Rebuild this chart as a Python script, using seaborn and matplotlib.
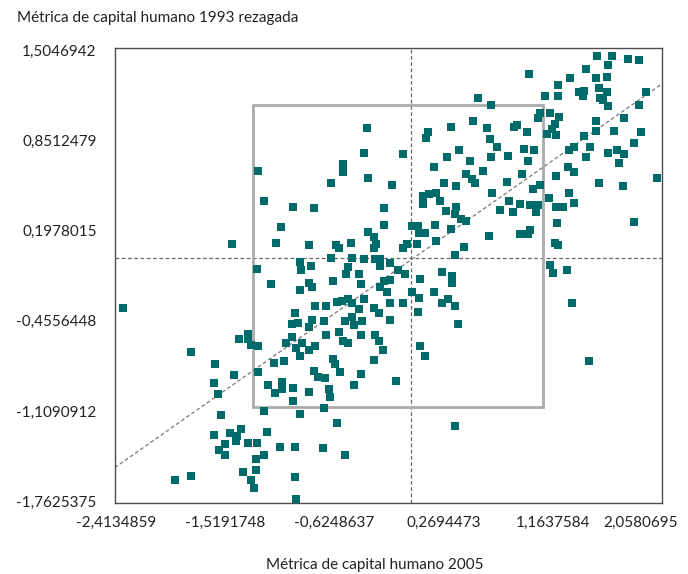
import numpy as np
import matplotlib
matplotlib.use("Agg")
import matplotlib.pyplot as plt
import matplotlib.transforms as mtransforms
from matplotlib.patches import Rectangle
import seaborn as sns

# Capital humano: métrica 2005 (x) frente a métrica 1993 rezagada (y), por grupos de la nube
grupo_izq_alto_x = [-1.25, -1.20, -0.96, -1.06, -1.46, -1.10, -1.26, -0.91, -0.90]
grupo_izq_alto_y = [0.63, 0.41, 0.37, 0.22, 0.10, 0.11, -0.08, -0.03, -0.09]

grupo_centro_alto_x = [0.55, 0.51, 0.33, 0.14, 0.13, -0.36, -0.38, -0.06, 0.40, 0.30,
                       0.49, 0.59, -0.55, -0.55, 0.19, 0.45, 0.50, 0.53, -0.65, -0.35,
                       -0.15, 0.27, 0.37, 0.10, 0.15, 0.21, 0.10, 0.24, 0.29, 0.37,
                       0.36, 0.41, 0.45, -0.79, -0.22, -0.22, -0.35, -0.30, -0.28, -0.30,
                       0.01, 0.06, 0.07, 0.12, 0.20, 0.33, 0.21, 0.05, -0.03, -0.06,
                       0.44, 0.36, -0.83, -0.61, -0.59, -0.49, -0.65, -0.48, -0.38, -0.29,
                       -0.25, -0.25, -0.17, -0.82, -0.51, -0.53, -0.42, -0.10, -0.05, 0.26, 0.34]
grupo_centro_alto_y = [1.16, 0.99, 0.95, 0.91, 0.87, 0.94, 0.76, 0.75, 0.78, 0.73,
                       0.70, 0.63, 0.68, 0.62, 0.66, 0.61, 0.57, 0.54, 0.54, 0.58,
                       0.53, 0.54, 0.52, 0.45, 0.46, 0.47, 0.39, 0.41, 0.34, 0.37,
                       0.32, 0.28, 0.27, 0.36, 0.36, 0.24, 0.19, 0.15, 0.10, 0.07,
                       0.23, 0.23, 0.18, 0.18, 0.24, 0.21, 0.12, 0.10, 0.10, 0.07,
                       0.08, 0.02, 0.09, 0.09, 0.07, 0.11, 0.00, 0.00, -0.01, -0.01,
                       -0.01, -0.06, -0.04, -0.06, -0.07, -0.12, -0.12, -0.09, -0.12, -0.10, -0.13]

grupo_der_alto_x = [1.53, 1.65, 1.62, 1.78, 1.87, 1.44, 0.97, 1.31, 1.52, 1.61,
                    1.21, 1.54, 1.38, 1.42, 1.41, 1.61, 1.55, 1.58, 1.62, 1.10,
                    1.21, 1.93, 1.87, 0.66, 1.06, 1.04, 1.14, 1.22, 1.18, 1.16,
                    1.12, 1.19, 0.85, 0.87, 0.63, 0.95, 0.65, 0.71, 0.66, 0.80,
                    0.93, 1.01, 0.96, 0.91, 0.79, 0.67, 1.00, 1.06, 1.19, 1.29,
                    1.34, 1.30, 1.34, 1.42, 1.47, 1.44, 1.52, 1.52, 1.67, 1.75,
                    1.89, 1.83, 1.62, 1.69, 1.75, 1.71, 1.54, 1.74, 2.02, 0.81,
                    0.73, 0.84, 0.90, 0.98, 1.04, 1.03, 1.13, 1.19, 1.25, 1.30,
                    1.34, 1.20, 0.98, 0.90, 0.96, 0.64, 1.83, 1.18, 1.21, 1.14,
                    1.17, 1.28]
grupo_der_alto_y = [1.46, 1.46, 1.40, 1.44, 1.43, 1.37, 1.33, 1.30, 1.30, 1.31,
                    1.25, 1.23, 1.20, 1.21, 1.17, 1.20, 1.16, 1.14, 1.10, 1.17,
                    1.17, 1.20, 1.11, 1.11, 1.05, 1.01, 1.05, 1.02, 0.97, 0.93,
                    0.90, 0.89, 0.95, 0.96, 0.94, 0.91, 0.86, 0.80, 0.73, 0.74,
                    0.79, 0.78, 0.70, 0.61, 0.55, 0.47, 0.50, 0.53, 0.59, 0.66,
                    0.62, 0.78, 0.80, 0.88, 0.80, 0.73, 0.99, 0.92, 0.92, 1.01,
                    0.91, 0.83, 0.76, 0.78, 0.75, 0.69, 0.54, 0.52, 0.58, 0.41,
                    0.35, 0.33, 0.39, 0.38, 0.38, 0.33, 0.43, 0.37, 0.37, 0.47,
                    0.40, 0.25, 0.20, 0.17, 0.17, 0.16, 0.26, 0.11, 0.09, -0.05,
                    -0.11, -0.09]

grupo_izq_bajo_x = [-2.36, -1.14, -0.91, -0.95, -0.97, -0.92, -1.33, -1.41, -1.33, -1.31,
                    -1.25, -1.02, -0.97, -0.94, -0.91, -1.80, -1.60, -1.45, -1.61, -1.58,
                    -1.25, -1.12, -1.04, -1.17, -1.05, -1.05, -1.11, -0.96, -0.96, -1.20,
                    -0.91, -1.55, -1.61, -1.48, -1.39, -1.42, -1.43, -1.33, -1.26, -1.18,
                    -1.52, -1.57, -1.52, -1.27, -1.20, -1.07, -0.95, -1.93, -1.80, -1.37,
                    -1.27, -1.31, -1.28, -0.95, -0.94]
grupo_izq_bajo_y = [-0.36, -0.19, -0.23, -0.40, -0.48, -0.47, -0.55, -0.59, -0.59, -0.63,
                    -0.64, -0.62, -0.57, -0.65, -0.71, -0.68, -0.77, -0.85, -0.91, -0.99,
                    -0.83, -0.76, -0.75, -0.92, -0.90, -0.95, -0.98, -0.94, -1.04, -1.11,
                    -1.13, -1.14, -1.28, -1.27, -1.24, -1.29, -1.33, -1.34, -1.34, -1.26,
                    -1.35, -1.39, -1.43, -1.46, -1.43, -1.37, -1.37, -1.61, -1.58, -1.55,
                    -1.54, -1.61, -1.67, -1.59, -1.75]

grupo_centro_bajo_x = [-0.83, -0.81, -0.64, -0.41, -0.25, -0.22, -0.17, -0.19, 0.08, 0.01,
                       0.07, 0.19, 0.34, 0.31, 0.26, 0.36, 0.06, 0.39, -0.78, -0.69,
                       -0.60, -0.56, -0.51, -0.48, -0.42, -0.38, -0.30, -0.26, -0.17, -0.06,
                       -0.17, -0.81, -0.83, -0.71, -0.54, -0.48, -0.46, -0.40, -0.69, -0.59,
                       -0.55, -0.51, -0.41, -0.29, -0.26, -0.23, -0.30, -0.89, -0.78, -0.83,
                       -0.64, -0.62, -0.79, -0.76, -0.70, -0.58, -0.41, -0.46, -0.67, -0.66,
                       -0.83, -0.12, 0.08, 0.12, -0.71, -0.60, 0.36, -0.72, -0.54]
grupo_centro_bajo_y = [-0.18, -0.21, -0.17, -0.19, -0.21, -0.17, -0.16, -0.25, -0.15, -0.25,
                       -0.29, -0.25, -0.18, -0.30, -0.33, -0.35, -0.39, -0.48, -0.35, -0.35,
                       -0.32, -0.31, -0.30, -0.33, -0.37, -0.30, -0.36, -0.40, -0.33, -0.33,
                       -0.45, -0.45, -0.50, -0.46, -0.46, -0.43, -0.49, -0.46, -0.56, -0.54,
                       -0.60, -0.62, -0.56, -0.56, -0.60, -0.67, -0.74, -0.62, -0.64, -0.67,
                       -0.73, -0.77, -0.82, -0.86, -0.87, -0.83, -0.84, -0.92, -0.95, -1.01,
                       -0.97, -0.89, -0.64, -0.71, -1.09, -1.20, -1.22, -1.38, -1.43]

grupo_der_bajo_x = [1.32, 1.46]
grupo_der_bajo_y = [-0.33, -0.75]

# Recuadro de referencia (rango central de ambas métricas)
recuadro_x = (-1.295, 1.083)
recuadro_y = (-1.083, 1.105)

# Marcas de los ejes
ticks_x = [-2.4134859, -1.5191748, -0.6248637, 0.2694473, 1.1637584, 2.0580695]
ticks_y = [1.5046942, 0.8512479, 0.1978015, -0.4556448, -1.1090912, -1.7625375]

x = np.concatenate([grupo_izq_alto_x, grupo_centro_alto_x, grupo_der_alto_x,
                    grupo_izq_bajo_x, grupo_centro_bajo_x, grupo_der_bajo_x])
y = np.concatenate([grupo_izq_alto_y, grupo_centro_alto_y, grupo_der_alto_y,
                    grupo_izq_bajo_y, grupo_centro_bajo_y, grupo_der_bajo_y])

sns.set_theme(style="white")
plt.rcParams["font.family"] = ["Lato", "DejaVu Sans"]

fig = plt.figure(figsize=(6.88, 5.74), dpi=100)
ax = fig.add_axes([0.1667, 0.1237, 0.7955, 0.7927])

xlim = (-2.425, 2.06)
ylim = (-1.776, 1.520)
ax.set_xlim(*xlim)
ax.set_ylim(*ylim)

dash = (0, (3, 2))
ax.axvline(0, color="#666666", lw=0.9, ls=dash, zorder=1)
ax.axhline(0, color="#666666", lw=0.9, ls=dash, zorder=1)

ax.add_patch(Rectangle((recuadro_x[0], recuadro_y[0]),
                       recuadro_x[1] - recuadro_x[0], recuadro_y[1] - recuadro_y[0],
                       fill=False, edgecolor="#ababab", lw=2.0, zorder=1.5))

sns.regplot(x=x, y=y, scatter=False, ci=None, truncate=False, ax=ax,
            line_kws=dict(color="#777777", lw=0.9, ls=dash, zorder=2))

sns.scatterplot(x=x, y=y, marker="s", s=34, color="#006b6b", linewidth=0,
                ax=ax, zorder=3, legend=False)

ax.set_xlim(*xlim)
ax.set_ylim(*ylim)

fmt = lambda v: f"{v:.7f}".replace(".", ",")
ax.set_xticks(ticks_x)
ax.set_xticklabels([fmt(v) for v in ticks_x])
ax.set_yticks(ticks_y)
ax.set_yticklabels([fmt(v) for v in ticks_y])
ax.set_xlabel("")
ax.set_ylabel("")

for side in ["left", "right", "top", "bottom"]:
    ax.spines[side].set_visible(True)
    ax.spines[side].set_color("#4d4d4d")
    ax.spines[side].set_linewidth(1.0)

ax.tick_params(axis="both", direction="in", length=5, width=1.0, color="#333333",
               labelsize=11, labelcolor="#222222")
ax.tick_params(axis="x", pad=9)
ax.tick_params(axis="y", pad=13)

# la última etiqueta del eje x se desplaza para que quede dentro de la figura
last = ax.get_xticklabels()[-1]
last.set_transform(last.get_transform() +
                   mtransforms.ScaledTranslation(-15 / 72, 0, fig.dpi_scale_trans))

fig.text(17 / 688, 1 - 18 / 574, "Métrica de capital humano 1993 rezagada",
         ha="left", va="center", fontsize=11, color="#222222")
fig.text(375 / 688, 1 - 565 / 574, "Métrica de capital humano 2005",
         ha="center", va="center", fontsize=11, color="#222222")

fig.savefig("out.png", dpi=100)
